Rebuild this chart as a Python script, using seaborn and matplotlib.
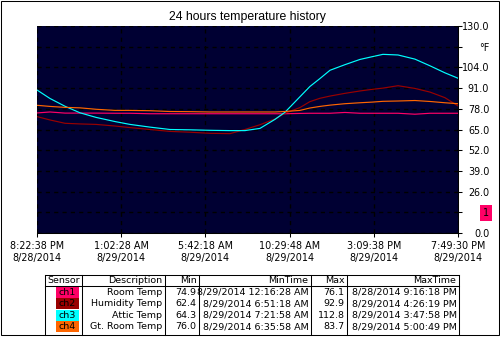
import numpy as np
import pandas as pd
import matplotlib
matplotlib.use("Agg")
import matplotlib.pyplot as plt
import seaborn as sns
from matplotlib.patches import Rectangle

# ---------------- data ----------------
hours = [0.0, 0.72, 1.56, 2.39, 3.29, 4.34, 5.18, 6.29, 7.41, 8.52, 9.64, 10.75,
         11.58, 12.42, 13.26, 13.81, 14.65, 15.20, 15.76, 16.32, 17.15, 17.99,
         18.66, 19.27, 20.11, 21.05, 21.89, 22.72, 23.45]
room_temp = [75.4, 76.0, 75.3, 75.3, 75.3, 75.2, 75.2, 74.9, 74.9, 74.9, 74.9, 74.9,
             74.9, 74.9, 74.9, 74.9, 75.1, 75.2, 75.2, 75.2, 75.7, 75.2,
             75.2, 75.2, 75.2, 74.6, 75.2, 75.2, 75.2]
humidity_temp = [73.1, 71.0, 68.9, 68.5, 68.2, 67.2, 66.2, 65.0, 63.8, 63.3, 62.6, 62.4,
                 65.0, 68.0, 71.6, 75.2, 78.8, 82.5, 84.6, 86.0, 87.7, 89.2,
                 90.2, 91.0, 92.5, 90.8, 88.5, 85.0, 79.8]
attic_temp = [89.8, 84.5, 79.6, 75.5, 72.6, 70.0, 68.2, 66.5, 65.0, 64.8, 64.5, 64.3,
              64.3, 65.7, 71.4, 75.8, 85.6, 92.0, 97.0, 102.2, 105.7, 109.0,
              110.7, 112.2, 111.8, 109.2, 105.0, 100.6, 97.2]
gt_room_temp = [80.2, 79.5, 78.9, 78.6, 77.7, 77.0, 77.0, 76.8, 76.3, 76.2, 76.0, 76.0,
                76.0, 76.0, 76.0, 76.3, 77.0, 78.5, 79.5, 80.3, 81.2, 81.8,
                82.2, 82.7, 82.9, 83.2, 82.6, 81.8, 81.2]

sensors = ["ch1", "ch2", "ch3", "ch4"]
descriptions = ["Room Temp", "Humidity Temp", "Attic Temp", "Gt. Room Temp"]
min_vals = ["74.9", "62.4", "64.3", "76.0"]
min_times = ["8/29/2014 12:16:28 AM", "8/29/2014 6:51:18 AM",
             "8/29/2014 7:21:58 AM", "8/29/2014 6:35:58 AM"]
max_vals = ["76.1", "92.9", "112.8", "83.7"]
max_times = ["8/28/2014 9:16:18 PM", "8/29/2014 4:26:19 PM",
             "8/29/2014 3:47:58 PM", "8/29/2014 5:00:49 PM"]
table_headers = ["Sensor", "Description", "Min", "MinTime", "Max", "MaxTime"]

x_tick_labels = ["8:22:38 PM\n8/28/2014", "1:02:28 AM\n8/29/2014", "5:42:18 AM\n8/29/2014",
                 "10:29:48 AM\n8/29/2014", "3:09:38 PM\n8/29/2014", "7:49:30 PM\n8/29/2014"]
y_ticks = [0, 13, 26, 39, 52, 65, 78, 91, 104, 117, 130]
y_tick_labels = ["0.0", "1", "26.0", "39.0", "52.0", "65.0", "78.0", "91.0", "104.0", "°F", "130.0"]
span_hours = 23.45

colors = {"ch1": "#FF0066", "ch2": "#990000", "ch3": "#00FFFF", "ch4": "#FF6600"}

# ---------------- figure ----------------
W, H = 500, 337
fig = plt.figure(figsize=(W / 100, H / 100), dpi=100)
fig.patch.set_facecolor("white")
plt.rcParams["font.family"] = ["DejaVu Sans"]

ax = fig.add_axes([37 / W, (H - 233) / H, 421 / W, 207 / H])
ax.set_facecolor("#000033")

df = pd.concat([
    pd.DataFrame({"hours": hours, "temp": v, "sensor": s})
    for s, v in zip(sensors, [room_temp, humidity_temp, attic_temp, gt_room_temp])
])
sns.lineplot(data=df, x="hours", y="temp", hue="sensor", hue_order=sensors,
             palette=colors, ax=ax, legend=False, linewidth=0.85, zorder=3)

ax.set_xlim(0, span_hours)
ax.set_ylim(0, 130)
ax.set_xticks(np.linspace(0, span_hours, 6))
ax.set_xticklabels(x_tick_labels, fontsize=6.9, linespacing=1.25)
ax.yaxis.tick_right()
ax.set_yticks(y_ticks)
ax.set_yticklabels(y_tick_labels, fontsize=6.9, ha="right")
ax.tick_params(axis="x", direction="out", length=3, width=0.75, pad=2.5, colors="black")
ax.tick_params(axis="y", direction="out", length=3, width=0.75, pad=19.5, colors="black")
ax.set_xlabel("")
ax.set_ylabel("")
ax.grid(True, color="black", linestyle=(0, (3, 3)), linewidth=1.0, zorder=1)
ax.set_axisbelow(True)
for side in ["left", "top"]:
    ax.spines[side].set_visible(False)
for side in ["right", "bottom"]:
    ax.spines[side].set_color("black")
    ax.spines[side].set_linewidth(0.75)

for lbl in ax.get_yticklabels():
    if lbl.get_text() == "1":
        lbl.set_bbox(dict(boxstyle="square,pad=0.3", fc="#FF0066", ec="none"))

ax.set_title("24 hours temperature history", fontsize=8.8, family="Liberation Sans",
             pad=4)

# ---------------- overlay (table + frame) ----------------
ov = fig.add_axes([0, 0, 1, 1])
ov.set_xlim(0, W)
ov.set_ylim(H, 0)
ov.set_axis_off()
ov.patch.set_alpha(0)

# figure frame
ov.add_patch(Rectangle((0.5, 0.5), W - 1.5, 334.5, fill=False, ec="black", lw=0.75))

col_edges = [45, 82, 165, 199, 311, 347, 459]
top, head_bot, bottom = 274.5, 286.0, 335.0
row_h = 11.6
ov.plot([col_edges[0], col_edges[-1]], [top, top], color="black", lw=0.75)
ov.plot([col_edges[0], col_edges[-1]], [head_bot, head_bot], color="black", lw=0.75)
for xe in col_edges:
    ov.plot([xe, xe], [top, bottom], color="black", lw=0.75)

fs = 6.8
# headers
ov.text((col_edges[0] + col_edges[1]) / 2, (top + head_bot) / 2 + 0.5, table_headers[0],
        ha="center", va="center", fontsize=fs)
for i in range(1, 6):
    ov.text(col_edges[i + 1] - 2.5, (top + head_bot) / 2 + 0.5, table_headers[i],
            ha="right", va="center", fontsize=fs)

for r in range(4):
    y0 = head_bot + r * row_h
    yc = y0 + row_h / 2 + 0.3
    ov.add_patch(Rectangle((56, y0 + 0.6), 23, row_h - 0.6, fc=colors[sensors[r]], ec="none"))
    ov.text(67.5, yc, sensors[r], ha="center", va="center", fontsize=fs, color="black")
    vals = [descriptions[r], min_vals[r], min_times[r], max_vals[r], max_times[r]]
    for i, v in enumerate(vals):
        ov.text(col_edges[i + 2] - 2.5, yc, v, ha="right", va="center", fontsize=fs)

fig.savefig("out.png", dpi=100)
